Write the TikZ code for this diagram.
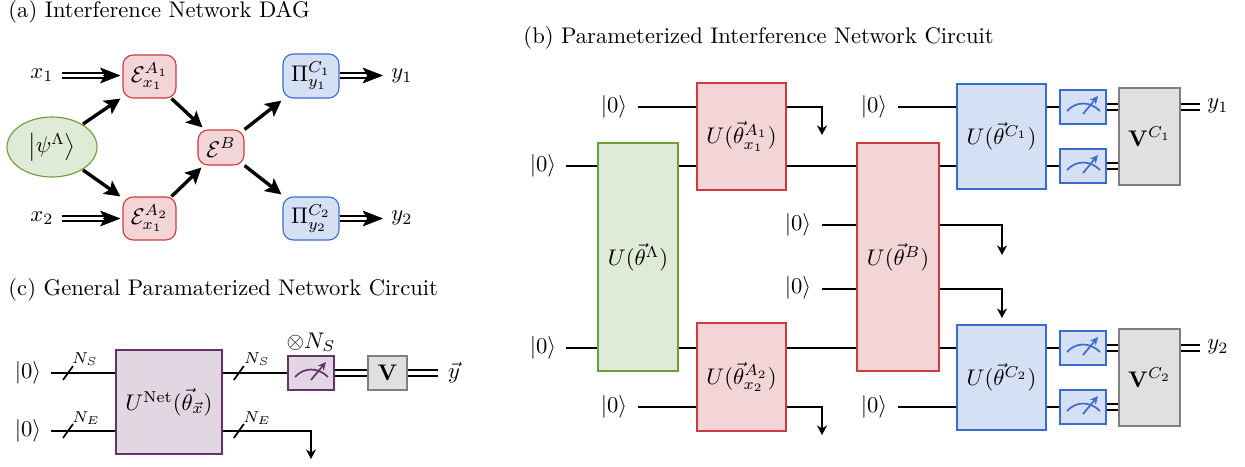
\documentclass[tikz,border=0pt]{standalone}
\usepackage{amsmath}
\usetikzlibrary{arrows.meta,calc,shapes.geometric}
\definecolor{redf}{HTML}{F4D5D7}\definecolor{redd}{HTML}{CF3A3D}
\definecolor{greenf}{HTML}{DFEBD6}\definecolor{greend}{HTML}{6C9F3B}
\definecolor{bluef}{HTML}{D5E0F4}\definecolor{blued}{HTML}{3A6CD0}
\definecolor{purf}{HTML}{E1D6E1}\definecolor{purd}{HTML}{6A2F6E}
\definecolor{grayf}{HTML}{E0E0E0}\definecolor{grayd}{HTML}{7F7F7F}
\newcommand{\ket}[1]{\ensuremath{|#1\rangle}}
\newcommand{\metersym}[2]{%
  \begin{scope}[shift={(#1.center)},line width=0.75pt]
    \draw[#2] (-16,4) .. controls (-7,-6) and (7,-6) .. (17,4);
    \draw[#2,-{Stealth[length=3.6pt,width=3.4pt]}] (0,7) -- (15,-11);
  \end{scope}}
\newcommand{\slashmark}[2]{\draw[wire] ($(#1)+(#2,7)$) -- ($(#1)+(#2+10,-7)$);}
\tikzset{
  x=0.4425pt,y=-0.4425pt,
  bx/.style={draw,rectangle,line width=0.75pt,inner sep=0pt,anchor=center},
  redbox/.style={bx,draw=redd,fill=redf},
  greenbox/.style={bx,draw=greend,fill=greenf},
  bluebox/.style={bx,draw=blued,fill=bluef},
  purbox/.style={bx,draw=purd,fill=purf},
  graybox/.style={bx,draw=grayd,fill=grayf},
  dag/.style={rounded corners=4.5pt,line width=0.5pt},
  sz/.style args={#1x#2}{minimum width=#1*0.4425pt,minimum height=#2*0.4425pt},
  wire/.style={draw=black,line width=0.75pt},
  outw/.style={wire,-{Stealth[length=4.2pt,width=4.4pt,inset=1.3pt]}},
  cwire/.style={draw=black,line width=0.75pt,double=white,double distance=2.2pt},
  fat/.style={draw=black,line width=1.5pt,-{Stealth[length=7pt,width=7pt,inset=1.5pt]}},
  dbl/.style={draw=black,line width=0.8pt,double=white,double distance=1.1pt},
  dbltip/.style={draw=black,line width=0.3pt,-{Stealth[length=9pt,width=7pt,inset=2pt]}},
  lab/.style={inner sep=0pt},
  title/.style={inner sep=0pt,anchor=base west},
}
\begin{document}
\begin{tikzpicture}
\useasboundingbox (0,0) rectangle (1245,466);
% ---------- titles
\node[title] (ta) at (8,17.5) {(a) Interference Network DAG};
\node[title] (tb) at (523,43) {(b) Parameterized Interference Network Circuit};
\node[title] (tc) at (8,295) {(c) General Paramaterized Network Circuit};
% ---------- (a)
\node[redbox,dag,sz=53x43] (a1) at (149.5,76.5) {$\mathcal{E}_{x_1}^{A_1}$};
\node[redbox,dag,sz=53x43] (a2) at (149.5,218.5) {$\mathcal{E}_{x_1}^{A_2}$};
\node[redbox,dag,sz=46x35] (ab) at (221,147.5) {$\mathcal{E}^{B}$};
\node[bluebox,dag,sz=56x44] (p1) at (311,76) {$\Pi_{y_1}^{C_1}$};
\node[bluebox,dag,sz=56x43] (p2) at (311,218.5) {$\Pi_{y_2}^{C_2}$};
\node[greenbox,ellipse,line width=0.5pt,sz=90x60] (psi) at (52,147) {$\bigl|\psi^{\Lambda}\bigr\rangle$};
\node[lab] (x1) at (42,75) {$x_1$};
\node[lab] (x2) at (42,218) {$x_2$};
\node[lab] (y1) at (402,76) {$y_1$};
\node[lab] (y2) at (402,218) {$y_2$};
\coordinate (x1s) at (62,75.5);\coordinate (x2s) at (62,218.5);
\coordinate (y1e) at (383,75.5);\coordinate (y2e) at (383,218.5);
\draw[dbl] (x1s) -- ($(x1s)+(42,0)$);
\draw[dbltip,shorten <=18pt] (x1s) -- ($(a1.west |- x1s)+(-2,0)$);
\draw[dbl] (x2s) -- ($(x2s)+(42,0)$);
\draw[dbltip,shorten <=18pt] (x2s) -- ($(a2.west |- x2s)+(-2,0)$);
\draw[dbl] (p1.east |- y1e) -- ($(y1e)+(-16,0)$);
\draw[dbltip,shorten <=12.5pt] (p1.east |- y1e) -- (y1e);
\draw[dbl] (p2.east |- y2e) -- ($(y2e)+(-16,0)$);
\draw[dbltip,shorten <=12.5pt] (p2.east |- y2e) -- (y2e);
\draw[fat] ($(psi.center)+(31,-23)$) -- ($(a1.south west)+(-2,0)$);
\draw[fat] ($(psi.center)+(31,23)$) -- ($(a2.north west)+(-2,0)$);
\draw[fat] ($(a1.south east)+(-5,0)$) -- ($(ab.north west)+(5,-2)$);
\draw[fat] ($(a2.north east)+(-5,0)$) -- ($(ab.south west)+(4,2)$);
\draw[fat] (ab.north east) -- ($(p1.south west)+(-1,2)$);
\draw[fat] (ab.south east) -- ($(p2.north west)+(-1,-2)$);
% ---------- (b) boxes
\node[greenbox,sz=80x228] (g) at (638,257) {$U(\vec{\theta}^{\Lambda})$};
\node[redbox,sz=89x107] (A1) at (741.5,136.5) {$U(\vec{\theta}_{x_1}^{A_1})$};
\node[redbox,sz=89x108] (A2) at (741.5,377) {$U(\vec{\theta}_{x_2}^{A_2})$};
\node[redbox,sz=82x228] (B) at (898,257) {$U(\vec{\theta}^{B})$};
\node[bluebox,sz=89x105] (C1) at (1001.5,136.5) {$U(\vec{\theta}^{C_1})$};
\node[bluebox,sz=89x105] (C2) at (1001.5,377.5) {$U(\vec{\theta}^{C_2})$};
\node[bluebox,sz=46x34] (m1) at (1083,107) {};
\node[bluebox,sz=46x34] (m2) at (1083,166) {};
\node[bluebox,sz=46x34] (m3) at (1083,348) {};
\node[bluebox,sz=46x34] (m4) at (1083,407) {};
\metersym{m1}{blued}
\metersym{m2}{blued}
\metersym{m3}{blued}
\metersym{m4}{blued}
\node[graybox,sz=61x97] (V1) at (1149.5,136.5) {$\mathbf{V}^{C_1}$};
\node[graybox,sz=61x97] (V2) at (1149.5,377.5) {$\mathbf{V}^{C_2}$};
% ---------- (b) kets
\node[lab] (q1) at (543,166) {\ket{0}};
\node[lab] (q2) at (543,348) {\ket{0}};
\node[lab] (q3) at (614,107) {\ket{0}};
\node[lab] (q4) at (614,407) {\ket{0}};
\node[lab] (q5) at (798,225) {\ket{0}};
\node[lab] (q6) at (798,288) {\ket{0}};
\node[lab] (q7) at (874,107) {\ket{0}};
\node[lab] (q8) at (874,407) {\ket{0}};
\node[lab] (oy1) at (1218,106) {$y_1$};
\node[lab] (oy2) at (1218,347) {$y_2$};
\coordinate (s1) at (566,166);\coordinate (s2) at (566,348);
\coordinate (s3) at (638,107);\coordinate (s4) at (638,407);
\coordinate (s5) at (822,225);\coordinate (s6) at (822,289);
\coordinate (s7) at (898,107);\coordinate (s8) at (898,407);
\draw[wire] (s1) -- (g.west |- s1);
\draw[wire] (s2) -- (g.west |- s2);
\draw[wire] (s3) -- (A1.west |- s3);
\draw[wire] (s4) -- (A2.west |- s4);
\draw[wire] (s5) -- (B.west |- s5);
\draw[wire] (s6) -- (B.west |- s6);
\draw[wire] (s7) -- (C1.west |- s7);
\draw[wire] (s8) -- (C2.west |- s8);
\draw[wire] (g.east |- s1) -- (A1.west |- s1);
\draw[wire] (g.east |- s2) -- (A2.west |- s2);
\draw[wire] (A1.east |- s1) -- (B.west |- s1);
\draw[wire] (A2.east |- s2) -- (B.west |- s2);
\draw[wire] (B.east |- s1) -- (C1.west |- s1);
\draw[wire] (B.east |- s2) -- (C2.west |- s2);
\coordinate (e1) at (822,135);\coordinate (e2) at (822,435);
\coordinate (e3) at (1002,255);\coordinate (e4) at (1002,318);
\draw[outw] (A1.east |- s3) -| (e1);
\draw[outw] (A2.east |- s4) -| (e2);
\draw[outw] (B.east |- s5) -| (e3);
\draw[outw] (B.east |- s6) -| (e4);
\draw[wire] (C1.east |- m1) -- (m1.west);
\draw[wire] (C1.east |- m2) -- (m2.west);
\draw[wire] (C2.east |- m3) -- (m3.west);
\draw[wire] (C2.east |- m4) -- (m4.west);
\draw[cwire] (m1.east) -- (V1.west |- m1);
\draw[cwire] (m2.east) -- (V1.west |- m2);
\draw[cwire] (m3.east) -- (V2.west |- m3);
\draw[cwire] (m4.east) -- (V2.west |- m4);
\coordinate (o1) at (1200,107);\coordinate (o2) at (1200,348);
\draw[cwire] (V1.east |- o1) -- (o1);
\draw[cwire] (V2.east |- o2) -- (o2);
% ---------- (c)
\node[purbox,sz=106x104] (U) at (169,402) {$U^{\mathrm{Net}}(\vec{\theta}_{\vec{x}})$};
\node[purbox,sz=46x34] (mc) at (311,373) {};
\metersym{mc}{purd}
\node[graybox,sz=39x34] (Vc) at (387.5,373) {$\mathbf{V}$};
\node[lab] (qa) at (28,373) {\ket{0}};
\node[lab] (qb) at (28,431) {\ket{0}};
\node[lab] (yv) at (454,373) {$\vec{y}$};
\node[lab] (ot) at (311,342) {$\otimes N_S$};
\node[lab,font=\scriptsize] (ns1) at (85,359) {$N_S$};
\node[lab,font=\scriptsize] (ne1) at (86,418) {$N_E$};
\node[lab,font=\scriptsize] (ns2) at (257,359) {$N_S$};
\node[lab,font=\scriptsize] (ne2) at (257,418) {$N_E$};
\coordinate (sa) at (51,373);\coordinate (sb) at (51,431);
\coordinate (ec) at (311,459);\coordinate (oc) at (438,373);
\draw[wire] (sa) -- (U.west |- sa);
\draw[wire] (sb) -- (U.west |- sb);
\draw[wire] (U.east |- sa) -- (mc.west);
\draw[outw] (U.east |- sb) -| (ec);
\draw[cwire] (mc.east) -- (Vc.west);
\draw[cwire] (Vc.east) -- (oc);
\slashmark{sa}{12}
\slashmark{sb}{12}
\slashmark{U.east |- sa}{11}
\slashmark{U.east |- sb}{11}
\end{tikzpicture}
\end{document}
